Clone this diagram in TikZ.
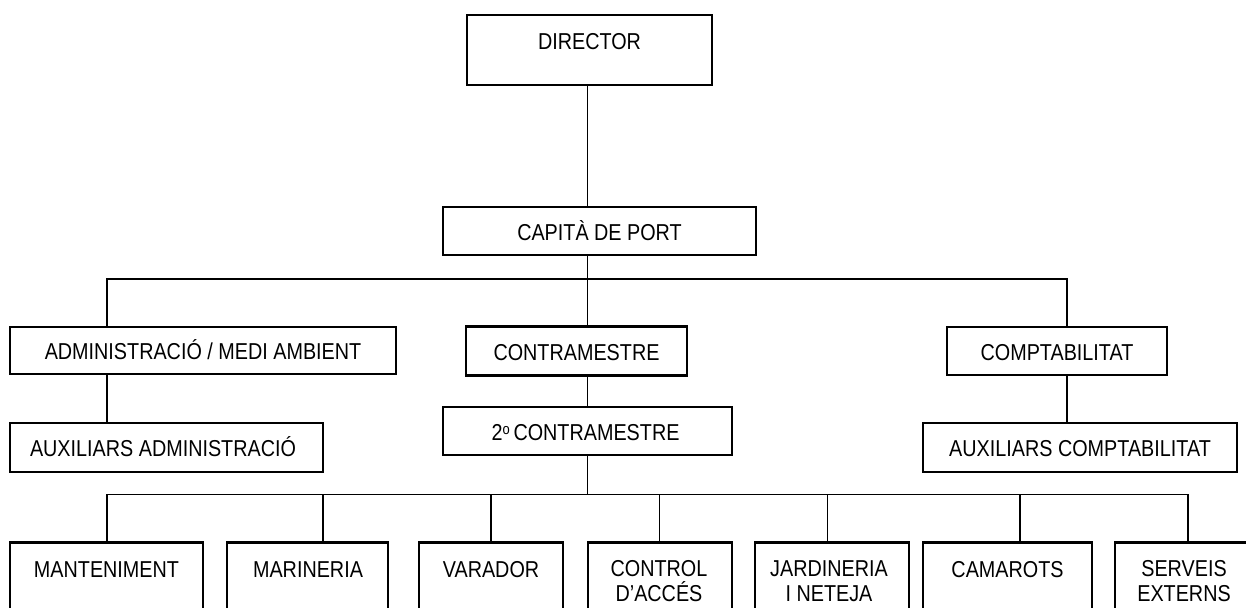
\documentclass[tikz,border=0pt]{standalone}
\usepackage{fontspec}
\setmainfont[FakeStretch=0.86]{Liberation Sans}
\begin{document}
\begin{tikzpicture}[x=1pt,y=-1pt,
  box/.style={draw=black, line width=2.4pt, rectangle, inner sep=0pt},
  lbl/.style={anchor=base, inner sep=0pt, align=center, font=\fontsize{23}{25.5}\selectfont},
  conn/.style={draw=black, line width=1.5pt}]
\useasboundingbox (0,0) rectangle (1246,607);
\clip (0,0) rectangle (1246,607);
% boxes
\node[box, minimum width=245pt, minimum height=70pt] (dir) at (589.5,50) {};
\node[box, minimum width=313pt, minimum height=48pt] (cap) at (599.5,231) {};
\node[box, minimum width=386pt, minimum height=47pt] (adm) at (203,350.5) {};
\node[box, minimum width=313pt, minimum height=49pt] (auxa) at (166.5,447.5) {};
\node[box, minimum width=221pt, minimum height=49pt] (contra) at (576.5,351) {};
\node[box, minimum width=289pt, minimum height=48pt] (seg) at (587.5,431) {};
\node[box, minimum width=220pt, minimum height=48pt] (comp) at (1057,351) {};
\node[box, minimum width=314pt, minimum height=49pt] (auxc) at (1080,447.5) {};
\node[box, minimum width=193pt, minimum height=107.5pt] (mant) at (106.5,596.25) {};
\node[box, minimum width=161pt, minimum height=107.5pt] (marin) at (307.5,596.25) {};
\node[box, minimum width=144pt, minimum height=107.5pt] (var) at (491,596.25) {};
\node[box, minimum width=144pt, minimum height=107.5pt] (ctrl) at (660,596.25) {};
\node[box, minimum width=154pt, minimum height=107.5pt] (jard) at (832,596.25) {};
\node[box, minimum width=169pt, minimum height=107.5pt] (cam) at (1007.5,596.25) {};
\node[box, minimum width=138pt, minimum height=107.5pt] (serv) at (1184,596.25) {};
% labels
\node[lbl] (dirT) at (589.5,50) {DIRECTOR};
\node[lbl] (capT) at (599.5,240) {CAPITÀ DE PORT};
\node[lbl] (admT) at (203,359.5) {ADMINISTRACIÓ / MEDI AMBIENT};
\node[lbl] (auxaT) at (163,456.5) {AUXILIARS ADMINISTRACIÓ};
\node[lbl] (contraT) at (576.5,360) {CONTRAMESTRE};
\node[lbl] (segT) at (585.5,440.5) {2\raisebox{6pt}{\fontsize{15}{15}\selectfont o}\,CONTRAMESTRE};
\node[lbl] (compT) at (1057,360) {COMPTABILITAT};
\node[lbl] (auxcT) at (1080,456.5) {AUXILIARS COMPTABILITAT};
\node[lbl] (mantT) at (106.5,577) {MANTENIMENT};
\node[lbl] (marinT) at (308,577) {MARINERIA};
\node[lbl] (varT) at (491,577) {VARADOR};
\node[lbl] (ctrlT) at (659,601.5) {CONTROL\\D’ACCÉS};
\node[lbl] (jardT) at (829,601.5) {JARDINERIA\\I NETEJA};
\node[lbl] (camT) at (1007.5,577) {CAMAROTS};
\node[lbl] (servT) at (1184,601.5) {SERVEIS\\EXTERNS};
% connector x positions and buses
\coordinate (spine) at (587.5,0);
\coordinate (xa) at (107,0);
\coordinate (xc) at (1067,0);
\coordinate (busA) at (0,279);
\coordinate (busB) at (0,494.5);
\coordinate (x1) at (107,0);
\coordinate (x2) at (323,0);
\coordinate (x3) at (491,0);
\coordinate (x4) at (659.5,0);
\coordinate (x5) at (827.5,0);
\coordinate (x6) at (1020,0);
\coordinate (x7) at (1188,0);
% connectors
\draw[conn] (dir.south -| spine) -- (cap.north -| spine);
\draw[conn] (cap.south -| spine) -- (contra.north -| spine);
\draw[conn] (adm.north -| xa) -- (xa |- busA) -- (xc |- busA) -- (comp.north -| xc);
\draw[conn] (adm.south -| xa) -- (auxa.north -| xa);
\draw[conn] (contra.south -| spine) -- (seg.north -| spine);
\draw[conn] (comp.south -| xc) -- (auxc.north -| xc);
\draw[conn] (seg.south -| spine) -- (spine |- busB);
\draw[conn] (mant.north -| x1) -- (x1 |- busB) -- (x7 |- busB) -- (serv.north -| x7);
\draw[conn] (marin.north -| x2) -- (x2 |- busB);
\draw[conn] (var.north -| x3) -- (x3 |- busB);
\draw[conn] (ctrl.north -| x4) -- (x4 |- busB);
\draw[conn] (jard.north -| x5) -- (x5 |- busB);
\draw[conn] (cam.north -| x6) -- (x6 |- busB);
\end{tikzpicture}
\end{document}
